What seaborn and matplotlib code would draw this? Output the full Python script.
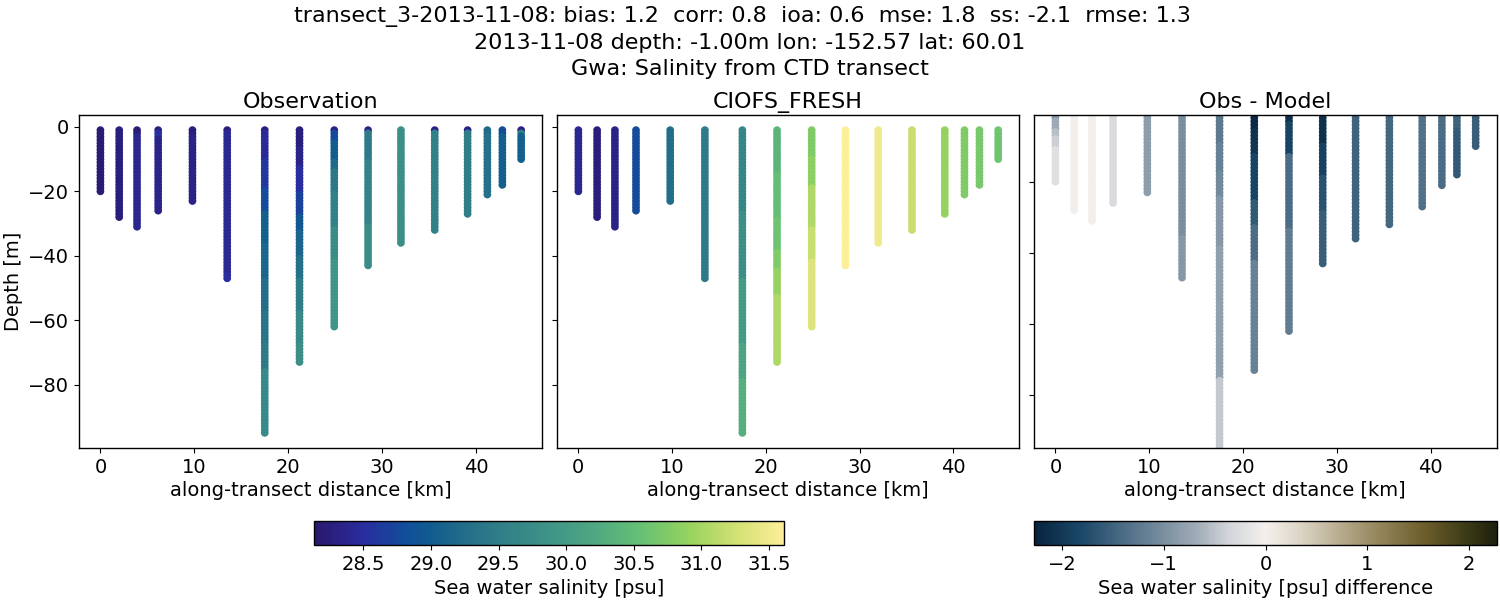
import numpy as np
import pandas as pd
import matplotlib
matplotlib.use("Agg")
import matplotlib.pyplot as plt
from matplotlib.colors import LinearSegmentedColormap, Normalize
from matplotlib.cm import ScalarMappable
import seaborn as sns

# Along-transect position of each CTD cast [km]
distance_km = [0.0, 2.0, 3.9, 6.15, 9.8, 13.5, 17.5, 21.2, 24.9, 28.5, 32.0, 35.6, 39.1, 41.2, 42.8, 44.8]

# Each cast: runs of (deepest depth of the run [m], value)
obs_runs = [
    [(20, 28.2)],
    [(28, 28.25)],
    [(2, 28.2), (31, 28.4)],
    [(1, 28.25), (3, 28.55), (26, 28.35)],
    [(2, 28.25), (23, 28.32)],
    [(1, 28.25), (45, 28.42), (47, 28.5)],
    [(1, 28.25), (10, 28.45), (19, 28.6), (26, 28.8), (36, 29.05), (47, 29.15), (57, 29.25), (67, 29.35), (75, 29.45), (95, 29.7)],
    [(6, 28.25), (12, 28.35), (20, 28.5), (27, 28.7), (32, 28.95), (40, 29.15), (47, 29.3), (57, 29.5), (67, 29.7), (73, 29.78)],
    [(1, 28.3), (4, 28.75), (10, 29.0), (13, 29.2), (20, 29.4), (31, 29.55), (41, 29.75), (62, 29.9)],
    [(1, 28.3), (10, 29.45), (30, 29.6), (43, 29.75)],
    [(36, 29.8)],
    [(1, 28.3), (32, 29.55)],
    [(1, 28.3), (27, 29.5)],
    [(2, 29.2), (21, 29.3)],
    [(2, 28.8), (18, 29.05)],
    [(1, 28.3), (2, 29.5), (10, 29.05)],
]
model_runs = [
    [(20, 28.4)],
    [(28, 28.25)],
    [(31, 28.35)],
    [(26, 28.8)],
    [(23, 29.25)],
    [(47, 29.45)],
    [(26, 29.65), (47, 29.8), (67, 30.0), (78, 30.15), (95, 30.3)],
    [(14, 30.4), (28, 30.5), (38, 30.6), (44, 30.75), (52, 30.9), (73, 31.05)],
    [(9, 30.75), (18, 30.85), (31, 31.05), (41, 31.2), (62, 31.35)],
    [(43, 31.6)],
    [(36, 31.5)],
    [(32, 31.2)],
    [(27, 30.9)],
    [(21, 30.75)],
    [(18, 30.7)],
    [(10, 30.62)],
]
diff_runs = [
    [(2, -0.9), (5, -0.7), (7, -0.55), (10, -0.4), (20, -0.22)],
    [(28, -0.02)],
    [(31, 0.02)],
    [(1, -0.6), (26, -0.3)],
    [(23, -0.85)],
    [(35, -1.0), (47, -0.9)],
    [(9, -1.25), (17, -1.15), (24, -1.05), (38, -0.9), (75, -0.8), (95, -0.45)],
    [(5, -2.2), (12, -2.05), (25, -1.85), (32, -1.6), (42, -1.4), (73, -1.15)],
    [(3, -2.1), (12, -1.85), (33, -1.4), (62, -1.2)],
    [(9, -2.1), (18, -1.9), (28, -1.7), (43, -1.55)],
    [(36, -1.5)],
    [(32, -1.45)],
    [(27, -1.35)],
    [(21, -1.4)],
    [(5, -1.5), (18, -1.6)],
    [(10, -1.55)],
]

panel_titles = ["Observation", "CIOFS_FRESH", "Obs - Model"]
title_lines = ("transect_3-2013-11-08: bias: 1.2  corr: 0.8  ioa: 0.6  mse: 1.8  ss: -2.1  rmse: 1.3  \n"
               "2013-11-08 depth: -1.00m lon: -152.57 lat: 60.01\n"
               "Gwa: Salinity from CTD transect")

haline = LinearSegmentedColormap.from_list("haline_like", [
    (0.00, "#2a186c"), (0.10, "#2a2c9e"), (0.20, "#10509a"), (0.25, "#115d8e"),
    (0.35, "#2a7488"), (0.50, "#3e9487"), (0.60, "#4fa882"), (0.70, "#67c173"),
    (0.80, "#97d35f"), (0.90, "#d3e173"), (1.00, "#fdee99")], N=256)
diff_map = LinearSegmentedColormap.from_list("diff_like", [
    (0.00, "#08233e"), (0.10, "#1a4868"), (0.25, "#6a8396"), (0.35, "#a0acb7"),
    (0.42, "#d2d5d9"), (0.50, "#f4f0ed"), (0.58, "#dbd3c3"), (0.72, "#9e9069"),
    (0.84, "#6f5f2d"), (0.93, "#3f3d18"), (1.00, "#1d200c")], N=256)

sal_norm = Normalize(28.136, 31.61)
diff_norm = Normalize(-2.275, 2.275)


def to_frame(runs):
    rows = []
    for x, cast in zip(distance_km, runs):
        top = 1
        for last, value in cast:
            for d in range(top, last + 1):
                rows.append((x, -float(d), value))
            top = last + 1
    return pd.DataFrame(rows, columns=["x", "y", "v"])


sns.set_theme(style="white", rc={"axes.edgecolor": "black", "xtick.bottom": True, "ytick.left": True,
                                 "axes.linewidth": 1.0, "text.color": "black", "axes.labelcolor": "black",
                                 "xtick.color": "black", "ytick.color": "black"})
plt.rcParams["font.family"] = ["DejaVu Sans"]
W, H = 1500, 600
fig = plt.figure(figsize=(W / 100, H / 100), dpi=100)


def add_px(x0, x1, y0, y1):
    return fig.add_axes([x0 / W, 1 - y1 / H, (x1 - x0) / W, (y1 - y0) / H])


axes = [add_px(79, 542, 115, 448), add_px(557, 1019, 115, 448), add_px(1034, 1496.5, 115, 448)]
specs = [(obs_runs, haline, sal_norm), (model_runs, haline, sal_norm), (diff_runs, diff_map, diff_norm)]
for ax, (runs, cmap, norm), name in zip(axes, specs, panel_titles):
    sns.scatterplot(data=to_frame(runs), x="x", y="y", hue="v", palette=cmap, hue_norm=norm,
                    s=31, linewidth=0, legend=False, ax=ax)
    ax.set_xlim(-2.28, 47.02)
    ax.set_ylim(-99.7, 3.7)
    ax.set_title(name, fontsize=16, pad=5, color="black")
    ax.set_xlabel("along-transect distance [km]", fontsize=14, labelpad=3)
    ax.set_ylabel("")
    ax.set_xticks([0, 10, 20, 30, 40])
    ax.set_yticks([0, -20, -40, -60, -80])
    ax.tick_params(axis="both", labelsize=14, length=3.5, width=0.8, color="black", labelcolor="black")
axes[0].set_ylabel("Depth [m]", fontsize=14, labelpad=4)
axes[1].tick_params(labelleft=False)
axes[2].set_ylim(-94.9, -1.24)
axes[2].set_yticks([-20, -40, -60, -80])
axes[2].tick_params(labelleft=False)

fig.text(750 / W, 1 - 6 / H, title_lines, ha="center", va="top", fontsize=16, color="black", linespacing=1.36)

cax1 = add_px(314, 784, 521, 545)
cax2 = add_px(1034, 1497, 521, 545)
cb1 = fig.colorbar(ScalarMappable(norm=sal_norm, cmap=haline), cax=cax1, orientation="horizontal")
cb2 = fig.colorbar(ScalarMappable(norm=diff_norm, cmap=diff_map), cax=cax2, orientation="horizontal")
cb1.set_ticks([28.5, 29.0, 29.5, 30.0, 30.5, 31.0, 31.5])
cb2.set_ticks([-2, -1, 0, 1, 2])
cb1.set_label("Sea water salinity [psu]", fontsize=14)
cb2.set_label("Sea water salinity [psu] difference", fontsize=14)
for cb in (cb1, cb2):
    cb.ax.tick_params(labelsize=14, length=3.5, width=0.8, bottom=True, color="black", labelcolor="black")
    cb.outline.set_edgecolor("black")
    cb.outline.set_linewidth(1.0)

fig.savefig("out.png", dpi=100, facecolor="white")
